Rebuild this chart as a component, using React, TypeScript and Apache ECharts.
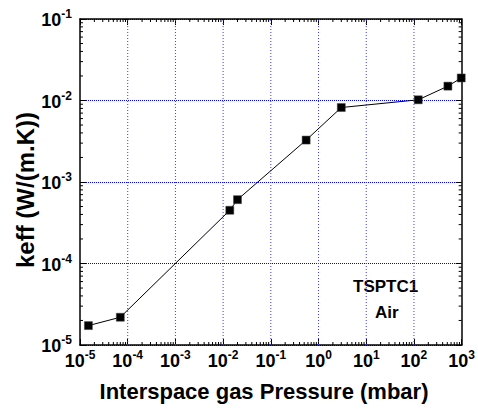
import React, { useEffect, useRef } from "react";
import * as echarts from "echarts";

const pressure = [1.5e-5, 7e-5, 0.0138, 0.02, 0.55, 3.0, 123, 515, 980];
const keff = [1.73e-5, 2.19e-5, 4.5e-4, 6.07e-4, 3.27e-3, 8.2e-3, 1.02e-2, 1.5e-2, 1.89e-2];

const xMin = 1e-5;
const xMax = 1e3;
const yMin = 1e-5;
const yMax = 1e-1;
const xExps = [-5, -4, -3, -2, -1, 0, 1, 2];
const yExps = [-5, -4, -3, -2];
const minorMult = [2, 3, 4, 5, 6, 7, 8, 9];
const xTitle = "Interspace gas Pressure (mbar)";
const yTitle = "keff (W/(m.K))";

const FONT = "'Liberation Sans', Arial, sans-serif";

const labelFmt = (v: number) => {
  const e = Math.round(Math.log10(v));
  return `{b|10}{s|${e}}`;
};
const rich = {
  b: { fontSize: 18, fontWeight: "bold", fontFamily: FONT, color: "#000", verticalAlign: "bottom", lineHeight: 20 },
  s: { fontSize: 12, fontWeight: "bold", fontFamily: FONT, color: "#000", verticalAlign: "bottom", lineHeight: 12, padding: [0, 0, 9, 0] },
};
const axisLabelBase = { fontSize: 18, fontWeight: "bold", fontFamily: FONT, color: "#000", formatter: labelFmt, rich };

export default function App() {
  const ref = useRef<HTMLDivElement>(null);
  useEffect(() => {
    if (!ref.current) return;
    const chart = echarts.init(ref.current, null, { renderer: "svg" });
    const xMinor: number[] = [];
    xExps.forEach((e) => minorMult.forEach((m) => xMinor.push(m * Math.pow(10, e))));
    const yMinor: number[] = [];
    yExps.forEach((e) => minorMult.forEach((m) => yMinor.push(m * Math.pow(10, e))));
    const xMajorInner = [1e-4, 1e-3, 1e-2, 1e-1, 1, 10, 100];

    const common = {
      type: "log",
      logBase: 10,
      axisLine: { show: true, lineStyle: { color: "#000", width: 1.5 } },
      axisTick: { show: true, inside: true, length: 6, lineStyle: { color: "#000", width: 1 } },
      splitLine: { show: false },
    };

    chart.setOption({
      animation: false,
      backgroundColor: "#fff",
      grid: { left: 80, top: 19, right: 13, bottom: 64, containLabel: false },
      xAxis: [
        {
          ...common,
          min: xMin,
          max: xMax,
          splitNumber: 8,
          position: "bottom",
          axisLabel: { ...axisLabelBase, margin: 5 },
        },
        {
          ...common,
          min: xMin,
          max: xMax,
          splitNumber: 8,
          position: "top",
          axisLabel: { show: false },
        },
      ],
      yAxis: [
        {
          ...common,
          min: yMin,
          max: yMax,
          splitNumber: 4,
          position: "left",
          axisLabel: { ...axisLabelBase, margin: 8 },
          splitLine: { show: true, lineStyle: { color: "#0000ff", type: "dotted", width: 1 } },
        },
        {
          ...common,
          min: yMin,
          max: yMax,
          splitNumber: 4,
          position: "right",
          axisLabel: { show: false },
        },
      ],
      graphic: [
        {
          type: "text",
          x: 264,
          y: 391,
          style: { text: xTitle, fontSize: 22, fontWeight: "bold", fontFamily: FONT, fill: "#000", align: "center", verticalAlign: "middle" },
        },
        {
          type: "text",
          x: 25,
          y: 190,
          rotation: Math.PI / 2,
          style: { text: yTitle, fontSize: 24, fontWeight: "bold", fontFamily: FONT, fill: "#000", align: "center", verticalAlign: "middle" },
        },
        {
          type: "text",
          left: 353,
          top: 278,
          style: { text: "TSPTC1", fontSize: 17, fontWeight: "bold", fontFamily: FONT, fill: "#000" },
        },
        {
          type: "text",
          left: 375,
          top: 304,
          style: { text: "Air", fontSize: 17, fontWeight: "bold", fontFamily: FONT, fill: "#000" },
        },
      ],
      series: [
        {
          type: "custom",
          xAxisIndex: 0,
          yAxisIndex: 0,
          silent: true,
          clip: false,
          z: 1,
          data: [[1e-3, 1e-3]],
          renderItem: (params: any, api: any) => {
            const children: any[] = [];
            const st = { stroke: "#000", lineWidth: 1 };
            xMajorInner.forEach((v) => {
              const b = api.coord([v, yMin]);
              const t = api.coord([v, yMax]);
              children.push({
                type: "line",
                shape: { x1: b[0], y1: b[1], x2: t[0], y2: t[1] },
                style: { stroke: "#3a3aff", lineWidth: 1, lineDash: [1, 2] },
              });
            });
            xMinor.forEach((v) => {
              const b = api.coord([v, yMin]);
              const t = api.coord([v, yMax]);
              children.push({ type: "line", shape: { x1: b[0], y1: b[1], x2: b[0], y2: b[1] - 3 }, style: st });
              children.push({ type: "line", shape: { x1: t[0], y1: t[1], x2: t[0], y2: t[1] + 3 }, style: st });
            });
            yMinor.forEach((v) => {
              const l = api.coord([xMin, v]);
              const r = api.coord([xMax, v]);
              children.push({ type: "line", shape: { x1: l[0], y1: l[1], x2: l[0] + 3, y2: l[1] }, style: st });
              children.push({ type: "line", shape: { x1: r[0], y1: r[1], x2: r[0] - 3, y2: r[1] }, style: st });
            });
            return { type: "group", children };
          },
        },
        {
          type: "line",
          xAxisIndex: 0,
          yAxisIndex: 0,
          z: 3,
          data: pressure.map((p, i) => [p, keff[i]]),
          symbol: "rect",
          symbolSize: 8,
          lineStyle: { color: "#000", width: 1 },
          itemStyle: { color: "#000", borderColor: "#444", borderWidth: 0.5 },
          clip: true,
        },
      ],
    });
    return () => chart.dispose();
  }, []);
  return <div ref={ref} style={{ width: 478, height: 409, position: "absolute", left: 0, top: 0 }} />;
}
